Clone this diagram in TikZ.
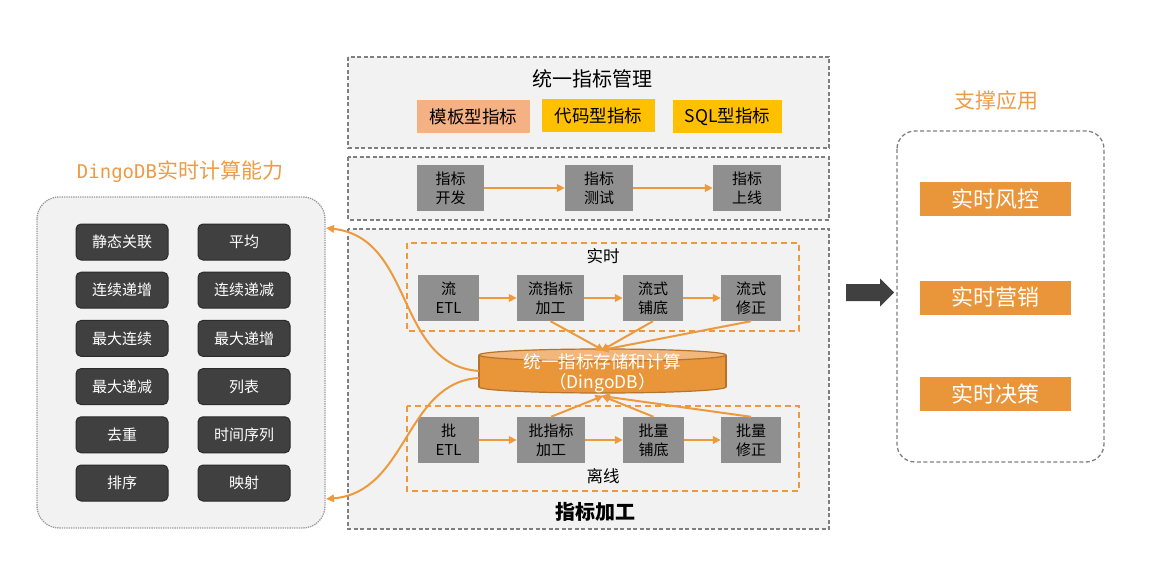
\documentclass[tikz,border=0pt]{standalone}
\usepackage{fontspec}
\setmainfont{Noto Sans CJK SC}
\newfontfamily\monofont{DejaVu Sans Mono}
\usepackage{tikz}
\usetikzlibrary{arrows.meta}
\definecolor{PANbg}{HTML}{F2F2F2}
\definecolor{PANline}{HTML}{7F7F7F}
\definecolor{DKfill}{HTML}{404040}
\definecolor{DKline}{HTML}{2B2B2B}
\definecolor{GRfill}{HTML}{8F8F8F}
\definecolor{ORline}{HTML}{ED9A3E}
\definecolor{ORfill}{HTML}{E9963B}
\definecolor{ORtop}{HTML}{F3B77C}
\definecolor{ORdark}{HTML}{B5732C}
\definecolor{SAfill}{HTML}{F4B183}
\definecolor{YEfill}{HTML}{FFC000}
\definecolor{TTorange}{HTML}{EE9B45}
\tikzset{
    PA/.style ={rectangle, draw=PANline, line width=1.3pt, dash pattern=on 4pt off 2.5pt, fill=PANbg},
    OD/.style ={rectangle, draw=ORline, line width=1.4pt, dash pattern=on 6pt off 4pt},
    DK/.style ={rectangle, rounded corners=5pt, minimum width=92pt, minimum height=36pt, draw=DKline, line width=1pt, fill=DKfill, text=white, font=\fontsize{15}{17}\selectfont},
    GR/.style ={rectangle, minimum height=45pt, fill=GRfill, align=center, inner sep=1pt, font=\fontsize{15}{19}\selectfont},
    KB/.style ={rectangle, minimum height=33pt, inner sep=1pt, font=\fontsize{17.5}{19}\selectfont},
    AP/.style ={rectangle, minimum width=151pt, minimum height=34pt, fill=ORfill, text=white, font=\fontsize{22}{24}\selectfont},
    AR/.style ={draw=ORline, line width=2pt, -{Triangle[length=8pt,width=7.5pt]}},
    TT/.style ={text=TTorange, font=\fontsize{21}{23}\selectfont}
}
\begin{document}
\begin{tikzpicture}[x=1pt,y=-1pt]
    \useasboundingbox (0,0) rectangle (1152,583);
    % left: computing capability
    \node[TT] (LT) at (180,172) {{\monofont\fontsize{19}{23}\selectfont DingoDB}实时计算能力};
    \draw[draw=PANline!80, fill=PANbg, line width=1.3pt, densely dotted, rounded corners=22pt] (37,197) rectangle (325,528);
    \coordinate (LP1) at (326,228);
    \coordinate (LP2) at (326,499);
    \foreach \a/\b [count=\i] in {静态关联/平均, 连续递增/连续递减, 最大连续/最大递增, 最大递减/列表, 去重/时间序列, 排序/映射}{
        \node[DK] (L\i) at (122,{242+48.2*(\i-1)}) {\a};
        \node[DK] (R\i) at (244,{242+48.2*(\i-1)}) {\b};
    }
    % middle: management
    \draw[PA] (348,57) rectangle (829,148);
    \node[font=\fontsize{20}{22}\selectfont] (MT) at (592,79) {统一指标管理};
    \node[KB, fill=SAfill, minimum width=113pt] (K1) at (473.5,117) {模板型指标};
    \node[KB, fill=YEfill, minimum width=113pt] (K2) at (598.5,116) {代码型指标};
    \node[KB, fill=YEfill, minimum width=109pt] (K3) at (727.5,116.5) {SQL型指标};
    % middle: lifecycle
    \draw[PA] (348,157) rectangle (829,220);
    \node[GR, minimum width=67pt] (D1) at (450.5,188) {指标\\开发};
    \node[GR, minimum width=68pt] (D2) at (599,188) {指标\\测试};
    \node[GR, minimum width=68pt] (D3) at (747,188) {指标\\上线};
    \draw[AR] (D1) -- (D2);
    \draw[AR] (D2) -- (D3);
    % middle: processing
    \draw[PA] (348,229) rectangle (829,529);
    \node[font=\bfseries\fontsize{20}{22}\selectfont] (PT) at (595,512) {指标加工};
    \draw[OD] (407,243) rectangle (799,331);
    \node[font=\fontsize{16.5}{18}\selectfont] (ST) at (603,256) {实时};
    \node[GR, minimum width=61pt, minimum height=46pt] (S1) at (448.5,298) {流\\ETL};
    \node[GR, minimum width=67pt, minimum height=46pt] (S2) at (550.5,298) {流指标\\加工};
    \node[GR, minimum width=60pt, minimum height=46pt] (S3) at (653,298) {流式\\铺底};
    \node[GR, minimum width=60pt, minimum height=46pt] (S4) at (751,298) {流式\\修正};
    \draw[AR] (S1) -- (S2);
    \draw[AR] (S2) -- (S3);
    \draw[AR] (S3) -- (S4);
    \draw[OD] (407,406) rectangle (799,491);
    \node[font=\fontsize{16.5}{18}\selectfont] (BT) at (603,476) {离线};
    \node[GR, minimum width=61pt, minimum height=46pt] (B1) at (448.5,440) {批\\ETL};
    \node[GR, minimum width=68pt, minimum height=46pt] (B2) at (551,440) {批指标\\加工};
    \node[GR, minimum width=61pt, minimum height=46pt] (B3) at (653.5,440) {批量\\铺底};
    \node[GR, minimum width=60pt, minimum height=46pt] (B4) at (751,440) {批量\\修正};
    \draw[AR] (B1) -- (B2);
    \draw[AR] (B2) -- (B3);
    \draw[AR] (B3) -- (B4);
    % storage cylinder
    \draw[fill=ORfill, draw=ORdark, line width=1.2pt] (602.5,387) ellipse (123.5 and 6);
    \fill[ORfill] (479,355) rectangle (726,387);
    \draw[ORdark, line width=1.2pt] (479,355) -- (479,387) (726,355) -- (726,387);
    \draw[fill=ORtop, draw=ORdark, line width=1.2pt] (602.5,355) ellipse (123.5 and 6);
    \node[minimum width=247pt, minimum height=44pt, align=center, text=white, font=\fontsize{17.5}{20}\selectfont] (DB) at (602.5,373) {统一指标存储和计算\\（DingoDB）};
    \draw[AR, shorten >=-2pt] (S2.south) -- (DB.north);
    \draw[AR, shorten >=-2pt] (S3.south) -- (DB.north);
    \draw[AR, shorten >=-2pt] (S4.south) -- (DB.north);
    \draw[AR, shorten >=-1pt] (B2.north) -- (DB.south);
    \draw[AR, shorten >=-1pt] (B3.north) -- (DB.south);
    \draw[AR, shorten >=-1pt] (B4.north) -- (DB.south);
    \coordinate (DB1) at (479,371);
    \coordinate (DB2) at (479,378);
    \draw[AR] (DB1) .. controls (395,365) and (415,238) .. (LP1);
    \draw[AR] (DB2) .. controls (405,382) and (408,492) .. (LP2);
    % big arrow
    \fill[DKfill] (846,284) -- (880,284) -- (880,278.5) -- (894,292.5) -- (880,306.5) -- (880,301) -- (846,301) -- cycle;
    % right: applications
    \node[TT] (AT) at (996,101) {支撑应用};
    \draw[draw=PANline, line width=1.3pt, dash pattern=on 4pt off 2.5pt, rounded corners=18pt] (897,131) rectangle (1104,462);
    \node[AP] (A1) at (995.5,199) {实时风控};
    \node[AP] (A2) at (995.5,297.5) {实时营销};
    \node[AP] (A3) at (995.5,394) {实时决策};
\end{tikzpicture}
\end{document}
